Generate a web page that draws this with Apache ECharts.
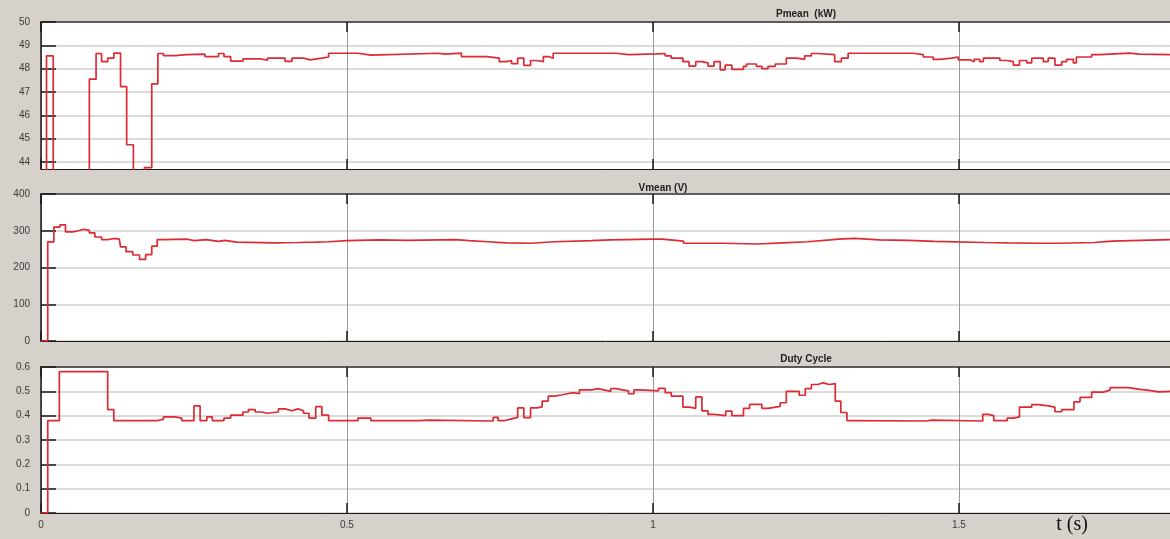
<!DOCTYPE html>
<html>
<head>
<meta charset="utf-8">
<script src="https://cdn.jsdelivr.net/npm/echarts@6/dist/echarts.min.js"></script>
<style>
  html, body { margin: 0; padding: 0; background: #d6d2cb; }
  #chart { width: 1170px; height: 539px; }
</style>
</head>
<body>
<div id="chart"></div>
<script>
// Sample-and-hold breakpoints: each value holds from its time until the next time.
const pTime = [0, 0.009, 0.020, 0.079, 0.090, 0.099, 0.109, 0.119, 0.130, 0.140, 0.151, 0.169, 0.181, 0.191,
  0.200, 0.219, 0.238, 0.268, 0.290, 0.299, 0.310, 0.330, 0.359, 0.370, 0.399, 0.410, 0.429, 0.440, 0.459,
  0.470, 0.518, 0.539, 0.650, 0.660, 0.687, 0.728, 0.749, 0.761, 0.769, 0.779, 0.789, 0.800, 0.810, 0.821,
  0.829, 0.837, 0.940, 0.960, 1.006, 1.020, 1.030, 1.049, 1.059, 1.070, 1.080, 1.090, 1.100, 1.110, 1.118,
  1.129, 1.148, 1.153, 1.169, 1.178, 1.188, 1.200, 1.218, 1.235, 1.248, 1.259, 1.270, 1.297, 1.308, 1.319,
  1.425, 1.442, 1.458, 1.469, 1.488, 1.499, 1.518, 1.525, 1.534, 1.540, 1.567, 1.578, 1.589, 1.599, 1.611,
  1.619, 1.638, 1.646, 1.657, 1.668, 1.676, 1.687, 1.692, 1.717, 1.730, 1.779, 1.795, 1.845];
const pMean = [0, 48.55, 0, 47.55, 48.65, 48.3, 48.45, 48.67, 47.23, 44.74, 0, 43.76, 47.35, 48.65,
  48.56, 48.6, 48.62, 48.52, 48.65, 48.52, 48.32, 48.42, 48.36, 48.45, 48.31, 48.45, 48.38, 48.45, 48.5,
  48.66, 48.58, 48.66, 48.62, 48.67, 48.52, 48.45, 48.3, 48.35, 48.22, 48.45, 48.14, 48.35, 48.3, 48.52,
  48.45, 48.66, 48.6, 48.63, 48.65, 48.55, 48.45, 48.3, 48.11, 48.3, 48.25, 48.11, 48.3, 47.95, 48.15,
  47.97, 48.1, 48.2, 48.1, 48.0, 48.1, 48.2, 48.45, 48.4, 48.55, 48.65, 48.6, 48.3, 48.45, 48.66,
  48.6, 48.5, 48.4, 48.45, 48.5, 48.38, 48.3, 48.4, 48.3, 48.45, 48.35, 48.3, 48.15, 48.35, 48.25,
  48.45, 48.3, 48.45, 48.15, 48.3, 48.4, 48.25, 48.5, 48.6, 48.67, 48.62, 48.6, 48.6];

const vTime = [0, 0.011, 0.021, 0.031, 0.040, 0.052, 0.061, 0.070, 0.079, 0.088, 0.099, 0.109, 0.119, 0.128,
  0.130, 0.139, 0.150, 0.161, 0.171, 0.181, 0.190, 0.200, 0.240, 0.250, 0.270, 0.290, 0.300, 0.320, 0.380,
  0.420, 0.450, 0.470, 0.500, 0.554, 0.600, 0.677, 0.700, 0.730, 0.760, 0.800, 0.840, 0.900, 0.930, 1.000,
  1.015, 1.050, 1.114, 1.171, 1.212, 1.253, 1.290, 1.303, 1.330, 1.370, 1.418, 1.460, 1.542, 1.580, 1.630,
  1.665, 1.722, 1.750, 1.845];
const vMean = [0, 270, 310, 316, 297, 300, 304, 301, 294, 283, 276, 279, 277, 274,
  256, 243, 234, 222, 235, 258, 276, 277, 273, 276, 271, 274, 269, 267, 268,
  269, 270, 273, 275, 274, 276, 273, 270, 267, 266, 270, 273, 275, 277, 277,
  272, 266, 264, 267, 270, 275, 277, 279, 275, 274, 271, 268, 267, 266, 266,
  268, 272, 276, 277];

const dTime = [0, 0.011, 0.030, 0.109, 0.119, 0.190, 0.200, 0.219, 0.230, 0.250, 0.260, 0.271, 0.280, 0.299,
  0.310, 0.330, 0.339, 0.350, 0.360, 0.370, 0.388, 0.399, 0.410, 0.420, 0.429, 0.438, 0.449, 0.459, 0.470,
  0.518, 0.539, 0.619, 0.632, 0.739, 0.747, 0.758, 0.766, 0.779, 0.789, 0.800, 0.810, 0.819, 0.829, 0.839,
  0.850, 0.860, 0.870, 0.880, 0.900, 0.910, 0.920, 0.931, 0.940, 0.950, 0.960, 0.969, 0.980, 1.009, 1.020,
  1.030, 1.049, 1.060, 1.070, 1.080, 1.090, 1.100, 1.119, 1.129, 1.148, 1.158, 1.178, 1.188, 1.208, 1.218,
  1.239, 1.249, 1.259, 1.270, 1.278, 1.288, 1.298, 1.307, 1.317, 1.327, 1.446, 1.456, 1.539, 1.548, 1.557,
  1.579, 1.589, 1.599, 1.619, 1.630, 1.646, 1.657, 1.668, 1.688, 1.698, 1.717, 1.736, 1.747, 1.777, 1.796,
  1.808, 1.827, 1.845];
const duty = [0, 0.38, 0.581, 0.425, 0.38, 0.385, 0.395, 0.39, 0.38, 0.44, 0.38, 0.395, 0.38, 0.39,
  0.402, 0.415, 0.425, 0.415, 0.41, 0.415, 0.428, 0.42, 0.428, 0.42, 0.41, 0.39, 0.437, 0.402, 0.38,
  0.39, 0.38, 0.382, 0.378, 0.393, 0.38, 0.385, 0.393, 0.432, 0.392, 0.432, 0.436, 0.46, 0.48, 0.485,
  0.49, 0.495, 0.49, 0.506, 0.511, 0.506, 0.5, 0.511, 0.506, 0.502, 0.49, 0.506, 0.502, 0.512, 0.495,
  0.48, 0.435, 0.43, 0.477, 0.42, 0.405, 0.4, 0.419, 0.4, 0.43, 0.446, 0.43, 0.438, 0.453, 0.5,
  0.484, 0.511, 0.528, 0.535, 0.528, 0.532, 0.46, 0.413, 0.38, 0.378, 0.382, 0.378, 0.405, 0.4, 0.38,
  0.39, 0.395, 0.435, 0.445, 0.44, 0.435, 0.416, 0.425, 0.457, 0.475, 0.497, 0.505, 0.515, 0.508, 0.505,
  0.498, 0.5, 0.5];

const panelTitles = ['Pmean  (kW)', 'Vmean (V)', 'Duty Cycle'];
const pTicks = [44, 45, 46, 47, 48, 49, 50];
const timeTicks = [0, 0.5, 1, 1.5];
const timeMax = 1.845;

const pair = (t, v) => t.map((x, i) => [x, v[i]]);

const frame = '#1a1a1a';
const labelFont = { color: '#3a3a3a', fontSize: 10, fontFamily: 'Liberation Sans, Arial, sans-serif' };

const grids = [
  { left: 41, right: 0, top: 22, height: 147 },
  { left: 41, right: 0, top: 194, height: 147 },
  { left: 41, right: 0, top: 367, height: 146 }
].map(g => Object.assign({ show: true, backgroundColor: '#ffffff', borderWidth: 0 }, g));

function bottomTimeAxis(gi, withLabels) {
  return {
    type: 'value', gridIndex: gi, position: 'bottom', min: 0, max: timeMax,
    axisLine: { show: true, onZero: false, lineStyle: { color: frame, width: 1 } },
    axisTick: { show: true, inside: true, length: 10, customValues: timeTicks, lineStyle: { color: frame, width: 1.5 } },
    axisLabel: Object.assign({ show: withLabels, margin: 7, customValues: timeTicks,
      formatter: v => String(Math.round(v * 10) / 10) }, labelFont),
    splitLine: { show: true, lineStyle: { color: '#9a9a9a', width: 1 } }
  };
}
function topTimeAxis(gi) {
  return {
    type: 'value', gridIndex: gi, position: 'top', min: 0, max: timeMax,
    axisLine: { show: true, onZero: false, lineStyle: { color: '#333', width: 1.5 } },
    axisTick: { show: true, inside: true, length: 10, customValues: timeTicks, lineStyle: { color: frame, width: 1.5 } },
    axisLabel: { show: false },
    splitLine: { show: false }
  };
}
function levelAxis(gi, extra) {
  return Object.assign({
    type: 'value', gridIndex: gi, position: 'left',
    axisLine: { show: true, onZero: false, lineStyle: { color: frame, width: 1.5 } },
    axisTick: { show: true, inside: true, length: 15, lineStyle: { color: frame, width: 1.5 } },
    axisLabel: Object.assign({ margin: 11 }, labelFont),
    splitLine: { show: true, lineStyle: { color: '#cfcfcf', width: 1.5 } }
  }, extra);
}

const yTop = levelAxis(0, { min: 43.7, max: 50 });
yTop.axisTick.customValues = pTicks;
yTop.axisLabel.customValues = pTicks;

const lineSeries = (gi, data) => ({
  type: 'line', xAxisIndex: gi * 2, yAxisIndex: gi, data, step: 'end',
  showSymbol: false, symbol: 'none', clip: true, animation: false,
  lineStyle: { color: '#dd2a33', width: 1.7 }
});

const chart = echarts.init(document.getElementById('chart'), null, { renderer: 'canvas' });
chart.setOption({
  backgroundColor: '#d6d2cb',
  animation: false,
  grid: grids,
  xAxis: [
    bottomTimeAxis(0, false), topTimeAxis(0),
    bottomTimeAxis(1, false), topTimeAxis(1),
    bottomTimeAxis(2, true), topTimeAxis(2)
  ],
  yAxis: [
    yTop,
    levelAxis(1, { min: 0, max: 400, interval: 100 }),
    levelAxis(2, { min: 0, max: 0.6, interval: 0.1 })
  ],
  series: [
    lineSeries(0, pair(pTime, pMean)),
    lineSeries(1, pair(vTime, vMean)),
    lineSeries(2, pair(dTime, duty))
  ],
  graphic: [
    { type: 'text', x: 806, y: 14, style: { text: panelTitles[0], textAlign: 'center', textVerticalAlign: 'middle',
      font: 'bold 10px Liberation Sans, Arial, sans-serif', fill: '#222' } },
    { type: 'text', x: 663, y: 188, style: { text: panelTitles[1], textAlign: 'center', textVerticalAlign: 'middle',
      font: 'bold 10px Liberation Sans, Arial, sans-serif', fill: '#222' } },
    { type: 'text', x: 806, y: 359, style: { text: panelTitles[2], textAlign: 'center', textVerticalAlign: 'middle',
      font: 'bold 10px Liberation Sans, Arial, sans-serif', fill: '#222' } },
    { type: 'text', x: 1072, y: 525, style: { text: 't (s)', textAlign: 'center', textVerticalAlign: 'middle',
      font: '20px Liberation Serif, Times New Roman, serif', fill: '#111' } }
  ]
});
</script>
</body>
</html>
